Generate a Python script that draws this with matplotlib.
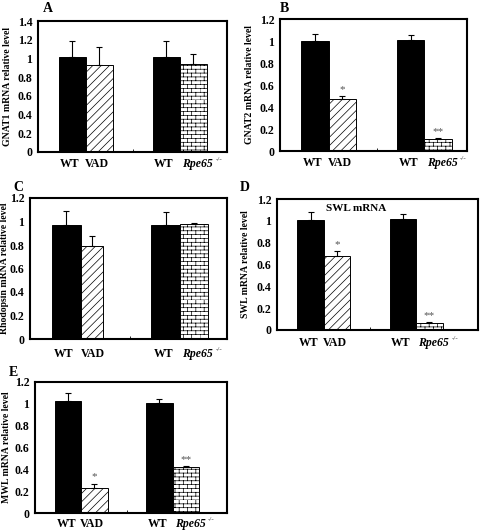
import warnings
warnings.filterwarnings('ignore')
import numpy as np
import matplotlib
matplotlib.use('Agg')
import matplotlib.pyplot as plt
import matplotlib.hatch as mhatch
from matplotlib.path import Path
from matplotlib.transforms import blended_transform_factory

# ---------------- data ----------------
categories = ['WT', 'VAD', 'WT', 'Rpe65']
rpe_superscript = '-/-'
positions = [1.27, 2.27, 4.75, 5.75]

gnat1 = [1.02, 0.93, 1.02, 0.94]
gnat1_err = [0.17, 0.19, 0.17, 0.11]
gnat2 = [1.00, 0.47, 1.01, 0.11]
gnat2_err = [0.06, 0.03, 0.04, 0.006]
rhodopsin = [0.97, 0.79, 0.97, 0.98]
rhodopsin_err = [0.12, 0.09, 0.11, 0.01]
swl = [1.01, 0.68, 1.02, 0.067]
swl_err = [0.07, 0.04, 0.04, 0.008]
mwl = [1.03, 0.23, 1.01, 0.42]
mwl_err = [0.07, 0.04, 0.03, 0.01]

stars_none = ['', '', '', '']
stars_sig = ['', '*', '', '**']

ylabels = ['GNAT1 mRNA relative level', 'GNAT2 mRNA relative level',
           'Rhodopsin mRNA relative level', 'SWL mRNA relative level',
           'MWL mRNA relative level']
letters = ['A', 'B', 'C', 'D', 'E']

# ---------------- brick hatch ----------------
class BrickHatch(mhatch.HatchPatternBase):
    def __init__(self, hatch, density):
        n = hatch.count('b')
        self.rows = 26 if n else 0
        self.cols = 12
        self.num_vertices = self.rows * 2 + self.rows * self.cols * 2

    def set_vertices_and_codes(self, vertices, codes):
        k = 0
        for i in range(self.rows):
            y0 = i / self.rows
            y1 = (i + 1) / self.rows
            vertices[k] = (0.0, y0)
            vertices[k + 1] = (1.0, y0)
            k += 2
            off = 0.5 if i % 2 else 0.0
            for j in range(self.cols):
                x = (j + off) / self.cols
                vertices[k] = (x, y0)
                vertices[k + 1] = (x, y1)
                k += 2
        codes[0::2] = Path.MOVETO
        codes[1::2] = Path.LINETO

mhatch._hatch_types.append(BrickHatch)

plt.rcParams['font.family'] = ['Liberation Serif', 'DejaVu Serif']
plt.rcParams['font.weight'] = 'bold'
plt.rcParams['hatch.linewidth'] = 0.5
plt.rcParams['hatch.color'] = 'black'

W, H = 480, 531
fig = plt.figure(figsize=(W / 100, H / 100), dpi=100)

def px_axes(l, r, t, b):
    return fig.add_axes([l / W, 1 - b / H, (r - l) / W, (b - t) / H])

panels = [
    dict(box=(38, 227, 21, 152), vals=gnat1, err=gnat1_err, stars=stars_none,
         ymax=1.4, xmax=7.0, lab_x=12.5, base=14.7, letter=(48, 9),
         widths=[1, 1, 1, 1]),
    dict(box=(280, 467, 19, 151), vals=gnat2, err=gnat2_err, stars=stars_sig,
         ymax=1.2, xmax=6.8, lab_x=254, base=14.7, letter=(284, 8),
         widths=[1, 1, 1, 1]),
    dict(box=(30, 227, 198, 339), vals=rhodopsin, err=rhodopsin_err, stars=stars_none,
         ymax=1.2, xmax=6.9, lab_x=9, base=17.7, letter=(18, 188),
         widths=[1, 0.77, 1, 1]),
    dict(box=(277, 478, 199, 330), vals=swl, err=swl_err, stars=stars_sig,
         ymax=1.2, xmax=7.58, lab_x=250, base=15.7, letter=(245, 188),
         widths=[1, 1, 1, 1]),
    dict(box=(35, 227, 382, 513), vals=mwl, err=mwl_err, stars=stars_sig,
         ymax=1.2, xmax=7.33, lab_x=11, base=13.7, letter=(13, 372),
         widths=[1, 1, 1, 1]),
]

faces = ['black', 'white', 'black', 'white']
hatches = [None, '////', None, 'b']

for i, p in enumerate(panels):
    ax = px_axes(*p['box'])
    ax.set_xlim(0, p['xmax'])
    ax.set_ylim(0, p['ymax'])
    for j in range(4):
        w = p['widths'][j]
        x = positions[j] - 0.5
        ax.bar(x, p['vals'][j], width=w, align='edge', color=faces[j],
               edgecolor='black', linewidth=0.7, hatch=hatches[j], zorder=2)
        ax.errorbar(x + w / 2, p['vals'][j], yerr=[[0], [p['err'][j]]],
                    fmt='none', ecolor='black', elinewidth=0.8, capsize=2,
                    capthick=0.8, zorder=3)
        if p['stars'][j]:
            ax.text(x + w / 2, p['vals'][j] + p['err'][j] + 0.02, p['stars'][j],
                    ha='center', va='bottom', fontsize=8, fontweight='normal',
                    color='#555555', zorder=4)
        # category labels under the bars
        if j == 3:
            lx, ha, style = x + 0.08, 'left', 'italic'
        else:
            lx, ha, style = positions[j] - 0.08, 'center', 'normal'
        t = ax.annotate(categories[j], xy=(lx, 0), xycoords=('data', 'axes fraction'),
                        xytext=(0, -p['base'] * 0.72), textcoords='offset points',
                        ha=ha, va='baseline', fontsize=8.5, fontweight='bold',
                        fontstyle=style, annotation_clip=False)
        if j == 3:
            ax.annotate(rpe_superscript, xy=(1, 1), xycoords=t,
                        xytext=(2, 0.5), textcoords='offset points',
                        ha='left', va='top', fontsize=5, fontweight='normal',
                        color='#333333', annotation_clip=False)
    ax.set_xticks([])
    ax.set_xticks([(positions[1] + positions[2]) / 2], minor=True)
    ax.tick_params(axis='x', which='minor', length=2, direction='in', width=0.6,
                   labelbottom=False)
    yt = np.round(np.arange(0, p['ymax'] + 0.001, 0.2), 1)
    ax.set_yticks(yt)
    ax.set_yticklabels(['%g' % v for v in yt])
    ax.tick_params(axis='y', length=0, pad=4, labelsize=8.5)
    for s in ax.spines.values():
        s.set_linewidth(1.5)
    ax.set_ylabel(ylabels[i], fontsize=7, fontweight='bold')
    ax.yaxis.label.set_va('bottom')
    ax.yaxis.set_label_coords(p['lab_x'] / W, 0.5,
                              transform=blended_transform_factory(fig.transFigure, ax.transAxes))
    fig.text(p['letter'][0] / W, 1 - p['letter'][1] / H, letters[i],
             ha='center', va='center', fontsize=10, fontweight='bold')
    if i == 3:
        ax.text(0.393, 0.93, 'SWL mRNA', transform=ax.transAxes, ha='center',
                va='center', fontsize=8, fontweight='bold')

fig.savefig('out.png', dpi=100)
